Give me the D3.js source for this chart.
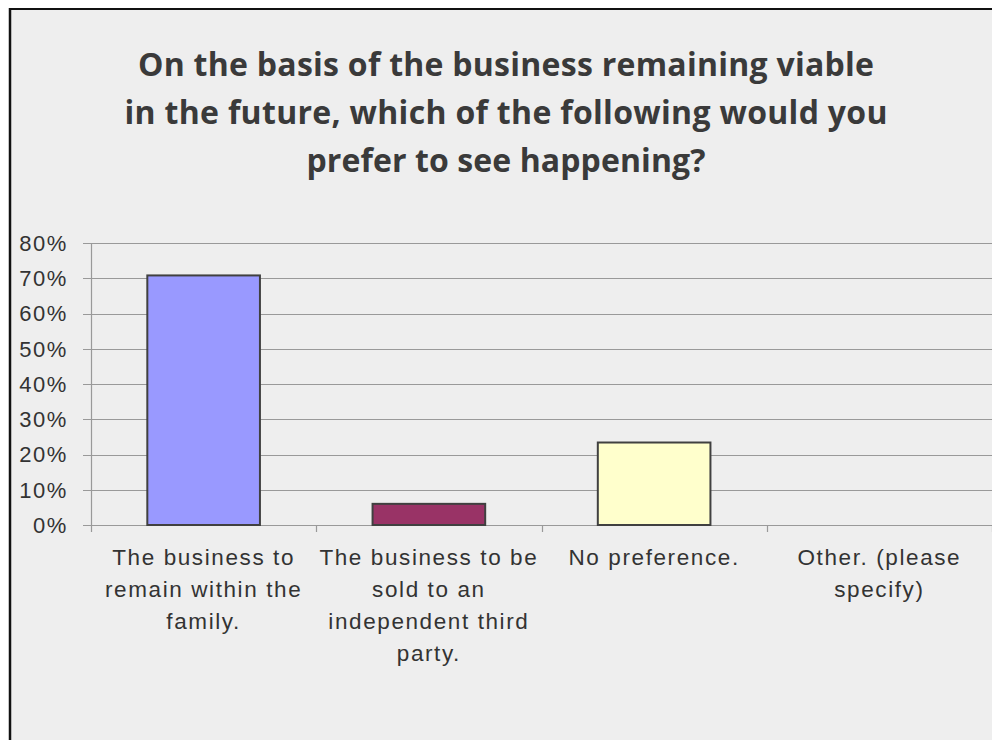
<!DOCTYPE html>
<html>
<head>
<meta charset="utf-8">
<script src="https://cdn.jsdelivr.net/npm/d3@7"></script>
<style>
  html, body { margin: 0; padding: 0; background: #ffffff; }
  svg { display: block; }
</style>
</head>
<body>
<svg id="chart" width="992" height="740"></svg>
<script>
// Survey answers and share of respondents (percent)
const categories = [
  ["The business to", "remain within the", "family."],
  ["The business to be", "sold to an", "independent third", "party."],
  ["No preference."],
  ["Other. (please", "specify)"]
];
const values = [70.8, 6.0, 23.4, 0];
const barColors = ["#9999ff", "#993366", "#ffffcc", "#ccffff"];
const yTicks = [0, 10, 20, 30, 40, 50, 60, 70, 80];
const titleLines = [
  "On the basis of the business remaining viable",
  "in the future, which of the following would you",
  "prefer to see happening?"
];
const titleWidths = [736, 763, 399];

const svg = d3.select("#chart");
const W = 992, H = 740;

// panel background with dark frame on top and left
svg.append("rect").attr("x", 10).attr("y", 9).attr("width", W - 10).attr("height", H - 9)
  .attr("fill", "#eeeeee");
svg.append("line").attr("x1", 9).attr("x2", W).attr("y1", 9).attr("y2", 9)
  .attr("stroke", "#111").attr("stroke-width", 2);
svg.append("line").attr("x1", 10).attr("x2", 10).attr("y1", 8).attr("y2", H)
  .attr("stroke", "#111").attr("stroke-width", 2.5);

// title
svg.append("g").selectAll("text").data(titleLines).join("text")
  .attr("x", 506).attr("y", (d, i) => 76 + i * 48)
  .attr("text-anchor", "middle")
  .attr("font-family", "'Open Sans', Lato, sans-serif")
  .attr("font-weight", "bold")
  .attr("font-size", 32)
  .attr("textLength", (d, i) => titleWidths[i])
  .attr("lengthAdjust", "spacing")
  .attr("fill", "#3a3a3a")
  .text(d => d);

const plot = { left: 91, right: 992, top: 243, bottom: 525 };

const x = d3.scaleBand().domain(d3.range(categories.length))
  .range([plot.left, plot.right]).padding(0);
const y = d3.scaleLinear().domain([0, 80]).range([plot.bottom, plot.top]);

// horizontal gridlines
svg.append("g").selectAll("line").data(yTicks).join("line")
  .attr("x1", plot.left - 8).attr("x2", plot.right)
  .attr("y1", d => Math.round(y(d)) + 0.5).attr("y2", d => Math.round(y(d)) + 0.5)
  .attr("stroke", "#999999").attr("stroke-width", 1.2);

// value axis line
svg.append("line").attr("x1", plot.left + 0.5).attr("x2", plot.left + 0.5)
  .attr("y1", plot.top).attr("y2", plot.bottom + 7)
  .attr("stroke", "#999999").attr("stroke-width", 1.2);

// category boundary ticks
svg.append("g").selectAll("line").data(d3.range(1, categories.length + 1)).join("line")
  .attr("x1", d => Math.round(plot.left + d * x.step()) + 0.5)
  .attr("x2", d => Math.round(plot.left + d * x.step()) + 0.5)
  .attr("y1", plot.bottom).attr("y2", plot.bottom + 7)
  .attr("stroke", "#999999").attr("stroke-width", 1.2);

// y tick labels
svg.append("g").selectAll("text").data(yTicks).join("text")
  .attr("x", 68).attr("y", d => y(d))
  .attr("dy", "0.36em")
  .attr("text-anchor", "end")
  .attr("font-family", "'Liberation Sans', Arial, sans-serif")
  .attr("font-size", 22)
  .attr("letter-spacing", 1.6)
  .attr("fill", "#333333")
  .text(d => d + "%");

// bars (half the band width, centred)
svg.append("g").selectAll("rect").data(values).join("rect")
  .attr("x", (d, i) => x(i) + x.bandwidth() * 0.25)
  .attr("width", x.bandwidth() * 0.5)
  .attr("y", d => y(d))
  .attr("height", d => y(0) - y(d))
  .attr("fill", (d, i) => barColors[i])
  .attr("stroke", "#404040").attr("stroke-width", 2)
  .attr("display", d => d > 0 ? null : "none");

// category labels
const lab = svg.append("g").selectAll("text").data(categories).join("text")
  .attr("text-anchor", "middle")
  .attr("font-family", "'Liberation Sans', Arial, sans-serif")
  .attr("font-size", 22.5)
  .attr("letter-spacing", 1.6)
  .attr("fill", "#333333");
lab.selectAll("tspan").data((d, i) => d.map(t => ({ t, i }))).join("tspan")
  .attr("x", d => x(d.i) + x.bandwidth() / 2)
  .attr("y", (d, j) => 565 + j * 32)
  .text(d => d.t);
</script>
</body>
</html>
